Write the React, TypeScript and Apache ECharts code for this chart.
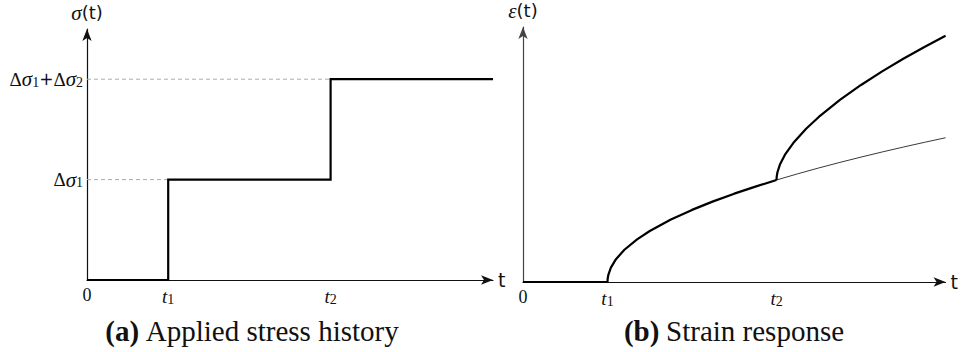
import React, { useEffect, useRef } from "react";
import * as echarts from "echarts";

// Applied stress history: step loading at t1 and t2
const stressTimes = [0, 1, 1, 3, 3, 5];
const stressValues = [0, 0, 1, 1, 2, 2];
// Dashed guides from the stress axis to each step corner
const guideOneTimes = [0, 1];
const guideOneValues = [1, 1];
const guideTwoTimes = [0, 3];
const guideTwoValues = [2, 2];

// Strain response to the first step (bold, up to t2)
const creepTimes = [0, 1, 1.002, 1.01, 1.04, 1.1, 1.2, 1.35, 1.5, 1.75, 2, 2.25, 2.5, 2.75, 3];
const creepValues = [0, 0, 0.0316, 0.0707, 0.1414, 0.2236, 0.3162, 0.4183, 0.5, 0.6124, 0.7071, 0.7906, 0.866, 0.9354, 1.0];
// Continuation of the first-step response without the second step (thin)
const contTimes = [3, 3.25, 3.5, 3.75, 4, 4.25, 4.5, 4.75, 5];
const contValues = [1.0, 1.0607, 1.118, 1.1726, 1.2247, 1.2748, 1.3229, 1.3693, 1.4142];
// Total strain after the second step (bold)
const totalTimes = [3, 3.002, 3.01, 3.04, 3.1, 3.2, 3.35, 3.5, 3.75, 4, 4.25, 4.5, 4.75, 5];
const totalValues = [1.0, 1.0321, 1.0732, 1.1514, 1.2483, 1.365, 1.5023, 1.618, 1.785, 1.9318, 2.0654, 2.1889, 2.3047, 2.4142];

// Tick labels on the time axes and the stress axis
const timeTicks: Record<number, string> = { 0: "{n|0}", 1: "{i|t}{sub|1}", 3: "{i|t}{sub|2}" };
const stressTicks: Record<number, string> = {
  1: "{d|Δ}{s|σ}{sub|1}",
  2: "{d|Δ}{s|σ}{sub|1}{p|+}{d|Δ}{s|σ}{sub|2}",
};

const captions = [
  { tag: "(a)", text: "Applied stress history", x: 252 },
  { tag: "(b)", text: "Strain response", x: 734 },
];

const SERIF = "Liberation Serif";
const SANS = "DejaVu Sans";

const zip = (xs: number[], ys: number[]) => xs.map((x, i) => [x, ys[i]]);

const tickRich = {
  n: { fontFamily: SERIF, fontSize: 18, color: "#111" },
  i: { fontFamily: SERIF, fontStyle: "italic", fontSize: 19, color: "#111" },
  d: { fontFamily: SERIF, fontSize: 19, color: "#111" },
  p: { fontFamily: SANS, fontSize: 17, color: "#111" },
  s: { fontFamily: SERIF, fontStyle: "italic", fontSize: 21, color: "#111" },
  sub: { fontFamily: SERIF, fontSize: 14, color: "#111", padding: [6, 0, 0, 0] },
};

const nameRich = {
  s: { fontFamily: SERIF, fontStyle: "italic", fontSize: 21, color: "#111" },
  p: { fontFamily: SANS, fontSize: 18, color: "#111" },
};

const axisLine = {
  show: true,
  lineStyle: { color: "#111", width: 1.2 },
  symbol: ["none", "arrow"],
  symbolSize: [7, 12],
  symbolOffset: [0, 0],
};

function timeAxis(gridIndex: number) {
  return {
    type: "value",
    gridIndex,
    min: 0,
    max: 5,
    interval: 1,
    axisLine,
    axisTick: { show: false },
    splitLine: { show: false },
    axisLabel: {
      margin: 6,
      formatter: (v: number) => timeTicks[v] ?? "",
      rich: tickRich,
    },
    name: "t",
    nameLocation: "end",
    nameGap: 5,
    nameTextStyle: { fontFamily: SANS, fontSize: 19, color: "#111", verticalAlign: "middle" },
  };
}

export default function App() {
  const ref = useRef<HTMLDivElement>(null);

  useEffect(() => {
    if (!ref.current) return;
    const chart = echarts.init(ref.current, null, { renderer: "svg" });
    chart.setOption({
      animation: false,
      backgroundColor: "#fff",
      grid: [
        { left: 87, top: 29, width: 406, height: 251 },
        { left: 523, top: 20, width: 425, height: 262 },
      ],
      xAxis: [timeAxis(0), timeAxis(1)],
      yAxis: [
        {
          type: "value",
          gridIndex: 0,
          min: 0,
          max: 2.5,
          interval: 0.5,
          axisLine,
          axisTick: { show: false },
          splitLine: { show: false },
          axisLabel: {
            margin: 4,
            formatter: (v: number) => stressTicks[v] ?? "",
            rich: tickRich,
          },
          name: "{s|σ}{p|(t)}",
          nameLocation: "end",
          nameGap: 6,
          nameTextStyle: { rich: nameRich },
        },
        {
          type: "value",
          gridIndex: 1,
          min: 0,
          max: 2.5,
          interval: 0.5,
          axisLine: { ...axisLine, lineStyle: { color: "#444", width: 1.2 } },
          axisTick: { show: false },
          splitLine: { show: false },
          axisLabel: { show: false },
          name: "{s|ε}{p|(t)}",
          nameLocation: "end",
          nameGap: 6,
          nameTextStyle: { rich: nameRich },
        },
      ],
      series: [
        {
          type: "line",
          xAxisIndex: 0,
          yAxisIndex: 0,
          data: zip(guideOneTimes, guideOneValues),
          symbol: "none",
          lineStyle: { color: "#aaa", width: 1, type: [4, 3] },
          silent: true,
        },
        {
          type: "line",
          xAxisIndex: 0,
          yAxisIndex: 0,
          data: zip(guideTwoTimes, guideTwoValues),
          symbol: "none",
          lineStyle: { color: "#aaa", width: 1, type: [4, 3] },
          silent: true,
        },
        {
          type: "line",
          xAxisIndex: 0,
          yAxisIndex: 0,
          data: zip(stressTimes, stressValues),
          symbol: "none",
          lineStyle: { color: "#000", width: 2.2, join: "miter" },
        },
        {
          type: "line",
          xAxisIndex: 1,
          yAxisIndex: 1,
          data: zip(contTimes, contValues),
          symbol: "none",
          lineStyle: { color: "#222", width: 0.9 },
        },
        {
          type: "line",
          xAxisIndex: 1,
          yAxisIndex: 1,
          data: zip(creepTimes, creepValues),
          symbol: "none",
          lineStyle: { color: "#000", width: 2.2 },
        },
        {
          type: "line",
          xAxisIndex: 1,
          yAxisIndex: 1,
          data: zip(totalTimes, totalValues),
          symbol: "none",
          lineStyle: { color: "#000", width: 2.2 },
        },
      ],
      graphic: captions.map((c) => ({
        type: "text",
        x: c.x,
        y: 331,
        style: {
          text: `{b|${c.tag}}  {r|${c.text}}`,
          align: "center",
          verticalAlign: "middle",
          rich: {
            b: { fontFamily: SERIF, fontWeight: "bold", fontSize: 29, fill: "#111" },
            r: { fontFamily: SERIF, fontSize: 29, fill: "#111" },
          },
        },
      })),
    });
    return () => chart.dispose();
  }, []);

  return (
    <div
      ref={ref}
      style={{ position: "fixed", left: 0, top: 0, width: 961, height: 352, background: "#fff" }}
    />
  );
}
